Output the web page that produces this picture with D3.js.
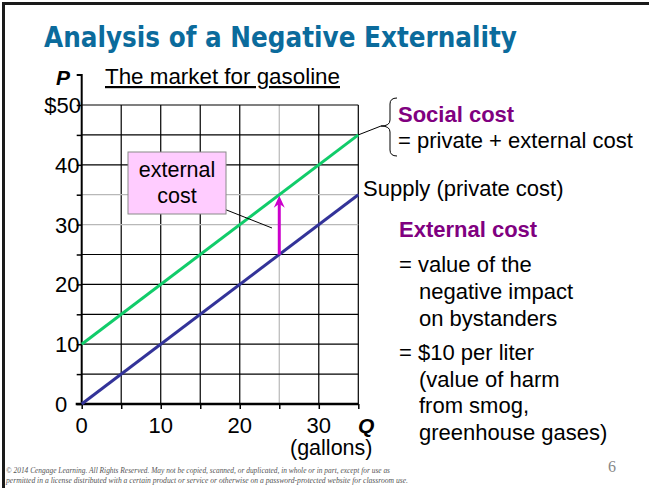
<!DOCTYPE html>
<html lang="en">
<head>
<meta charset="UTF-8">
<title>Analysis of a Negative Externality</title>
<style>
  body { margin: 0; background: #fff; }
  text { font-family: "Liberation Sans", Arial, sans-serif; }
</style>
</head>
<body>
<script src="https://cdnjs.cloudflare.com/ajax/libs/d3/7.8.5/d3.min.js"></script>
<script>
// data
var qGrid = [0, 5, 10, 15, 20, 25, 30, 35];
var pGrid = [0, 5, 10, 15, 20, 25, 30, 35, 40, 45, 50];
var grayQ = [25];          // light reference lines
var grayP = [30, 35];
var qLabels = [0, 10, 20, 30];
var pLabels = [0, 10, 20, 30, 40];
var supplyQ = [0, 35];
var supplyP = [0, 35];     // private cost
var socialP = [10, 45];    // private + external
var extQ = 25, extLow = 25, extHigh = 35;

var W = 649, H = 488;
var svg = d3.select("body").append("svg")
    .attr("width", W).attr("height", H);

// slide frame
svg.append("rect").attr("x", 3.5).attr("y", 3.5)
    .attr("width", W + 10).attr("height", H + 10)
    .attr("fill", "none").attr("stroke", "#1a1a1a").attr("stroke-width", 3);

// title
svg.append("text").attr("x", 44).attr("y", 47)
    .attr("textLength", 473).attr("lengthAdjust", "spacingAndGlyphs")
    .style("font-family", "'DejaVu Sans', Verdana, sans-serif")
    .style("font-weight", "bold").style("font-size", "28px")
    .attr("fill", "#0b6b9c")
    .text("Analysis of a Negative Externality");

var x = d3.scaleLinear().domain([0, 35]).range([81.7, 358.3]);
var y = d3.scaleLinear().domain([0, 50]).range([404, 105]);

// grid
var g = svg.append("g");
g.selectAll(".vg").data(qGrid.slice(1)).enter().append("line")
    .attr("x1", d => x(d)).attr("x2", d => x(d))
    .attr("y1", y(0)).attr("y2", y(50))
    .attr("stroke", d => grayQ.includes(d) ? "#b8b8b8" : "#000")
    .attr("stroke-width", 1.2);
g.selectAll(".hg").data(pGrid.slice(1)).enter().append("line")
    .attr("x1", x(0)).attr("x2", x(35))
    .attr("y1", d => y(d)).attr("y2", d => y(d))
    .attr("stroke", d => grayP.includes(d) ? "#b8b8b8" : "#000")
    .attr("stroke-width", 1.2);

// axes
var yAxis = d3.axisLeft(y).tickValues(pGrid).tickSize(5).tickFormat("");
var ya = svg.append("g").attr("transform", "translate(" + x(0) + ",0)").call(yAxis);
ya.select(".domain").remove();
ya.selectAll("line").attr("stroke", "#000").attr("stroke-width", 1.5);
svg.append("path").attr("d", "M" + (x(0) - 5) + ",75H" + x(0) + "V" + y(0))
    .attr("fill", "none").attr("stroke", "#000").attr("stroke-width", 2);

var xAxis = d3.axisBottom(x).tickValues(qGrid).tickSize(5).tickFormat("");
var xa = svg.append("g").attr("transform", "translate(0," + y(0) + ")").call(xAxis);
xa.select(".domain").remove();
xa.selectAll("line").attr("stroke", "#000").attr("stroke-width", 1.5);
svg.append("line").attr("x1", x(0) - 6).attr("x2", x(35))
    .attr("y1", y(0)).attr("y2", y(0))
    .attr("stroke", "#000").attr("stroke-width", 2.5);

// tick labels
svg.selectAll(".pl").data(pLabels).enter().append("text")
    .attr("x", 55).attr("y", d => y(d) + 8)
    .style("font-size", "22px").attr("fill", "#000")
    .text(d => d);
svg.append("text").attr("x", 81).attr("y", y(50) + 8)
    .attr("text-anchor", "end").style("font-size", "22px").text("$50");
svg.selectAll(".ql").data(qLabels).enter().append("text")
    .attr("x", d => x(d)).attr("y", 433)
    .attr("text-anchor", "middle").style("font-size", "22px")
    .text(d => d);

svg.append("text").attr("x", 56).attr("y", 85)
    .style("font-size", "21px").style("font-weight", "bold").style("font-style", "italic")
    .text("P");
svg.append("text").attr("x", 358).attr("y", 433)
    .style("font-size", "21px").style("font-weight", "bold").style("font-style", "italic")
    .text("Q");
svg.append("text").attr("x", 290).attr("y", 455)
    .style("font-size", "21.5px").text("(gallons)");

svg.append("text").attr("x", 105).attr("y", 84)
    .attr("textLength", 235).attr("lengthAdjust", "spacingAndGlyphs")
    .style("font-size", "22px").style("text-decoration", "underline")
    .text("The market for gasoline");

// curves
var line = d3.line().x(d => x(d[0])).y(d => y(d[1]));
svg.append("path").datum(supplyQ.map((q, i) => [q, supplyP[i]]))
    .attr("d", line).attr("fill", "none")
    .attr("stroke", "#333399").attr("stroke-width", 3);
svg.append("path").datum(supplyQ.map((q, i) => [q, socialP[i]]))
    .attr("d", line).attr("fill", "none")
    .attr("stroke", "#11cc6a").attr("stroke-width", 3);

// external cost arrow
var ax = x(extQ), tipY = y(extHigh) + 1;
svg.append("line").attr("x1", ax).attr("x2", ax)
    .attr("y1", y(extLow)).attr("y2", tipY + 8)
    .attr("stroke", "#cc00cc").attr("stroke-width", 3);
svg.append("path")
    .attr("d", "M" + ax + "," + tipY + "L" + (ax + 5.5) + "," + (tipY + 12) +
      "L" + ax + "," + (tipY + 8) + "L" + (ax - 5.5) + "," + (tipY + 12) + "Z")
    .attr("fill", "#cc00cc");

// callout box
svg.append("line").attr("x1", 224).attr("y1", 209).attr("x2", 272).attr("y2", 228)
    .attr("stroke", "#000").attr("stroke-width", 1);
svg.append("rect").attr("x", 128).attr("y", 152).attr("width", 98).attr("height", 62)
    .attr("fill", "#ffccff").attr("stroke", "#8a8a8a").attr("stroke-width", 1);
svg.append("text").attr("x", 177).attr("y", 177).attr("text-anchor", "middle")
    .style("font-size", "21.5px").text("external");
svg.append("text").attr("x", 177).attr("y", 203).attr("text-anchor", "middle")
    .style("font-size", "21.5px").text("cost");

// social cost brace
svg.append("line").attr("x1", x(35)).attr("y1", y(45)).attr("x2", 381).attr("y2", 126)
    .attr("stroke", "#000").attr("stroke-width", 1);
svg.append("path")
    .attr("d", "M397,98 Q390,98 390,104 L390,120 Q390,126 381,126 Q390,126 390,132 L390,150 Q390,156 397,156")
    .attr("fill", "none").attr("stroke", "#000").attr("stroke-width", 1);

var purple = "#800080";
function label(tx, ty, s, bold, col) {
  svg.append("text").attr("x", tx).attr("y", ty)
      .style("font-size", "22px")
      .style("font-weight", bold ? "bold" : "normal")
      .attr("fill", col || "#000").text(s);
}
label(398, 122, "Social cost", true, purple);
label(398, 148, "= private + external cost");
label(363, 196, "Supply (private cost)");
label(399, 237, "External cost", true, purple);
label(399, 272, "= value of the");
label(419, 299, "negative impact");
label(419, 326, "on bystanders");
label(399, 360, "= $10 per liter");
label(419, 387, "(value of harm");
label(419, 413, "from smog,");
label(419, 440, "greenhouse gases)");

// footer
svg.append("text").attr("x", 6).attr("y", 473)
    .attr("textLength", 384).attr("lengthAdjust", "spacingAndGlyphs")
    .style("font-family", "'Liberation Serif', 'Times New Roman', serif")
    .style("font-style", "italic").style("font-size", "7.5px").attr("fill", "#555")
    .text("\u00a9 2014 Cengage Learning. All Rights Reserved. May not be copied, scanned, or duplicated, in whole or in part, except for use as");
svg.append("text").attr("x", 6).attr("y", 483)
    .attr("textLength", 402).attr("lengthAdjust", "spacingAndGlyphs")
    .style("font-family", "'Liberation Serif', 'Times New Roman', serif")
    .style("font-style", "italic").style("font-size", "7.5px").attr("fill", "#555")
    .text("permitted in a license distributed with a certain product or service or otherwise on a password-protected website for classroom use.");
svg.append("text").attr("x", 612).attr("y", 472).attr("text-anchor", "middle")
    .style("font-family", "'Liberation Serif', serif").style("font-size", "16px")
    .attr("fill", "#888").text("6");
</script>
</body>
</html>
